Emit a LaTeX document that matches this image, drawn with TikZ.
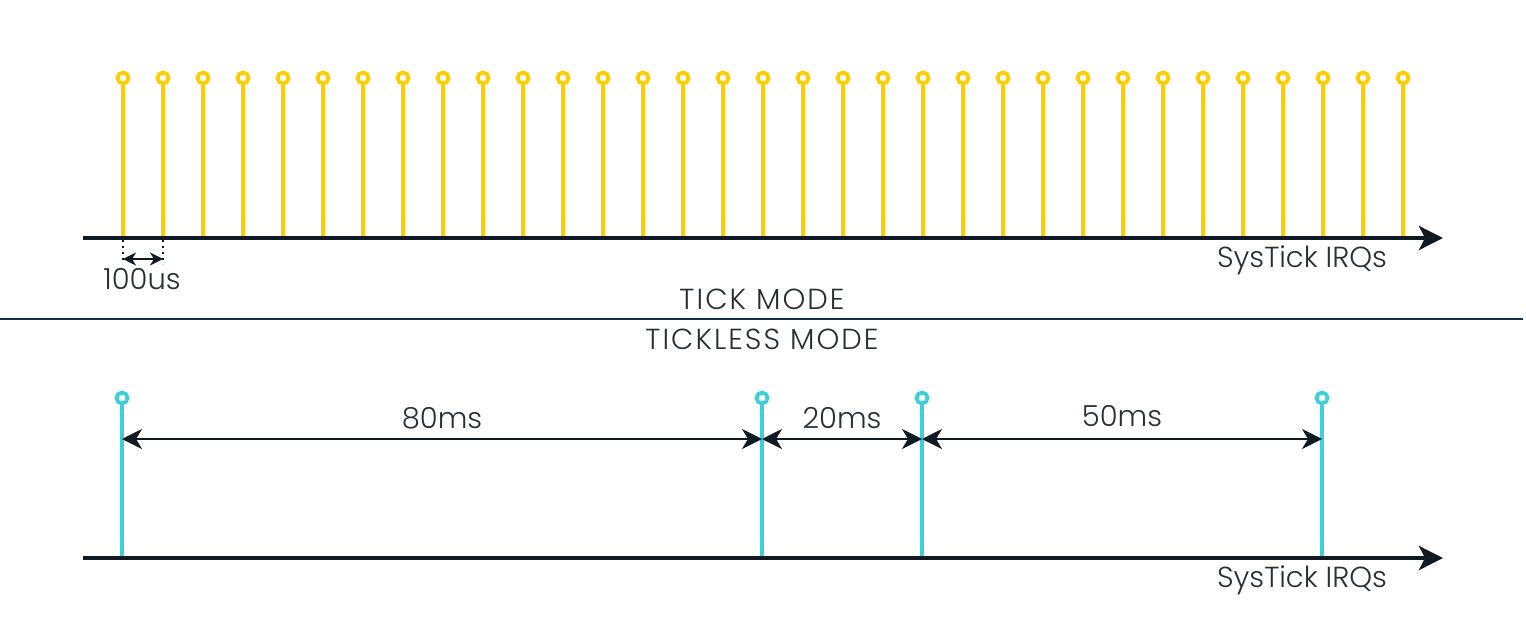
\documentclass[tikz,border=0pt]{standalone}
\usepackage{fontspec}
\setmainfont{Poppins}[UprightFont=* Light]
\usetikzlibrary{arrows.meta}
\definecolor{tickyel}{HTML}{FFCC00}
\definecolor{tickcyan}{HTML}{3FCFDB}
\definecolor{axisdark}{HTML}{0F1A22}
\definecolor{divteal}{HTML}{0D3440}
\definecolor{txtgray}{HTML}{2A2E33}
\tikzset{
  axisline/.style={line width=4pt, draw=axisdark, -{Stealth[length=24pt,width=24pt,inset=6pt]}},
  stemY/.style={line width=3.5pt, draw=tickyel},
  stemC/.style={line width=3.5pt, draw=tickcyan},
  headY/.style={circle, draw=tickyel, line width=3.8pt, fill=white, minimum size=11pt, inner sep=0pt},
  headC/.style={circle, draw=tickcyan, line width=3.8pt, fill=white, minimum size=11pt, inner sep=0pt},
  dimline/.style={line width=2pt, draw=axisdark, {Stealth[length=20pt,width=20pt,inset=6pt]}-{Stealth[length=20pt,width=20pt,inset=6pt]}},
  lbl/.style={text=txtgray, font=\fontsize{29}{32}\selectfont, inner sep=0pt},
  caplbl/.style={text=txtgray, font=\fontsize{29}{32}\selectfont\addfontfeature{LetterSpace=7}, inner sep=0pt},
}
\begin{document}
\begin{tikzpicture}[x=1pt,y=-1pt]
\useasboundingbox (0,0) rectangle (1526,640);
% ---------- TICK MODE ----------
\coordinate (a1s) at (83,238);
\coordinate (a1e) at (1443,238);
\foreach \i in {0,...,32}{
  \pgfmathsetmacro{\xx}{123+40*\i}
  \node[headY] (ty\i) at (\xx,78) {};
  \coordinate (tb\i) at (\xx,238);
  \draw[stemY] (ty\i.south) -- (tb\i);
}
\draw[axisline] (a1s) -- (a1e);
% 100us
\coordinate (d1a) at (123,240);
\coordinate (d1b) at (123,264);
\coordinate (d2a) at (163,240);
\coordinate (d2b) at (163,264);
\draw[axisdark, line width=2pt, dash pattern=on 2pt off 4pt] (d1a) -- (d1b);
\draw[axisdark, line width=2pt, dash pattern=on 2pt off 4pt] (d2a) -- (d2b);
\coordinate (u1) at (123,259);
\coordinate (u2) at (163,259);
\draw[line width=2pt, draw=axisdark, {Stealth[length=13pt,width=13pt,inset=4pt]}-{Stealth[length=13pt,width=13pt,inset=4pt]}] (u1) -- (u2);
\node[lbl] (t100) at (142,279) {100us};
\node[lbl] (sys1) at (1302,260) {SysTick IRQs};
\node[caplbl] (tm) at (762,299) {TICK MODE};
% divider
\coordinate (dv1) at (0,319);
\coordinate (dv2) at (1523,319);
\draw[divteal, line width=2pt] (dv1) -- (dv2);
\node[caplbl] (tlm) at (762,339) {TICKLESS MODE};
% ---------- TICKLESS MODE ----------
\foreach \n/\xx in {c1/122,c2/762,c3/922,c4/1322}{
  \node[headC] (\n) at (\xx,398) {};
  \coordinate (\n b) at (\xx,558);
  \coordinate (\n m) at (\xx,439);
  \draw[stemC] (\n.south) -- (\n b);
}
\coordinate (a2s) at (83,558);
\coordinate (a2e) at (1443,558);
\draw[axisline] (a2s) -- (a2e);
\draw[dimline] (c1m) -- (c2m);
\draw[dimline] (c2m) -- (c3m);
\draw[dimline] (c3m) -- (c4m);
\node[lbl] (l80) at (442,418) {80ms};
\node[lbl] (l20) at (842,418) {20ms};
\node[lbl] (l50) at (1122,416) {50ms};
\node[lbl] (sys2) at (1302,580) {SysTick IRQs};
\end{tikzpicture}
\end{document}
